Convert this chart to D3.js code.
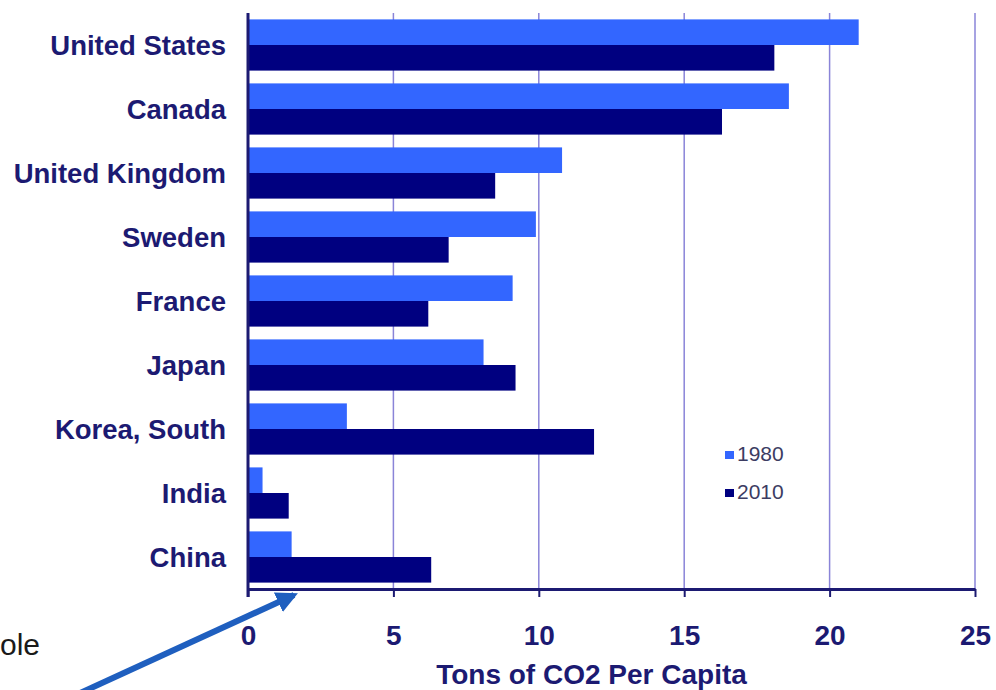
<!DOCTYPE html>
<html>
<head>
<meta charset="utf-8">
<script src="https://cdn.jsdelivr.net/npm/d3@7"></script>
<style>
  html, body { margin: 0; padding: 0; background: #ffffff; }
  svg { display: block; }
</style>
</head>
<body>
<svg id="chart" width="996" height="690"></svg>
<script>
// Per-capita CO2 emissions by country, 1980 vs 2010
const countries = ["United States", "Canada", "United Kingdom", "Sweden", "France",
                   "Japan", "Korea, South", "India", "China"];
const years = ["1980", "2010"];
const values1980 = [21.0, 18.6, 10.8, 9.9, 9.1, 8.1, 3.4, 0.5, 1.5];
const values2010 = [18.1, 16.3, 8.5, 6.9, 6.2, 9.2, 11.9, 1.4, 6.3];
const xTicks = [0, 5, 10, 15, 20, 25];
const axisTitle = "Tons of CO2 Per Capita";

const colors = { "1980": "#3366ff", "2010": "#000080" };
const navy = "#1c1a72";
const font = "Liberation Sans, Arial, sans-serif";

const svg = d3.select("#chart");
const margin = { left: 248, right: 21, top: 13, bottom: 101 };
const W = 996, H = 690;

const x = d3.scaleLinear().domain([0, 25]).range([margin.left, W - margin.right]);
const y = d3.scaleBand().domain(countries).range([margin.top, H - margin.bottom])
  .paddingInner(0.2).paddingOuter(0.1);
const ySub = d3.scaleBand().domain(years).range([0, y.bandwidth()]);

// vertical gridlines
svg.append("g").selectAll("line").data(xTicks.slice(1)).join("line")
  .attr("x1", d => x(d)).attr("x2", d => x(d))
  .attr("y1", margin.top).attr("y2", H - margin.bottom)
  .attr("stroke", "#8a84d8").attr("stroke-width", 1.5);

// bars
const rows = countries.map((c, i) => ({ country: c, "1980": values1980[i], "2010": values2010[i] }));
const groups = svg.append("g").selectAll("g").data(rows).join("g")
  .attr("transform", d => `translate(0,${y(d.country)})`);
groups.selectAll("rect").data(d => years.map(k => ({ key: k, value: d[k] }))).join("rect")
  .attr("x", x(0))
  .attr("y", d => ySub(d.key))
  .attr("width", d => x(d.value) - x(0))
  .attr("height", ySub.bandwidth())
  .attr("fill", d => colors[d.key]);

// x axis
const xAxis = svg.append("g")
  .attr("transform", `translate(0,${H - margin.bottom})`)
  .call(d3.axisBottom(x).tickValues(xTicks).tickSize(8).tickPadding(28).tickSizeOuter(0));
xAxis.select(".domain").attr("stroke", navy).attr("stroke-width", 3);
xAxis.selectAll(".tick line").attr("stroke", navy).attr("stroke-width", 2);
xAxis.selectAll(".tick text")
  .attr("fill", navy).style("font-family", font)
  .style("font-weight", "bold").style("font-size", "28px");

// y axis line
svg.append("line")
  .attr("x1", x(0)).attr("x2", x(0))
  .attr("y1", margin.top).attr("y2", H - margin.bottom + 8)
  .attr("stroke", navy).attr("stroke-width", 3);

// category labels
svg.append("g").selectAll("text").data(countries).join("text")
  .attr("x", 226)
  .attr("y", d => y(d) + y.bandwidth() / 2)
  .attr("dy", "0.36em")
  .attr("text-anchor", "end")
  .attr("fill", navy)
  .style("font-family", font)
  .style("font-weight", "bold").style("font-size", "27.5px")
  .text(d => d);

// axis title
svg.append("text")
  .attr("x", (x(0) + x(25)) / 2 - 20).attr("y", 684)
  .attr("text-anchor", "middle").attr("fill", navy)
  .style("font-family", font)
  .style("font-weight", "bold").style("font-size", "28px")
  .text(axisTitle);

// legend
const legend = svg.append("g").attr("transform", "translate(725,450)");
years.forEach((k, i) => {
  const g = legend.append("g").attr("transform", `translate(0,${i * 38})`);
  g.append("rect").attr("width", 9).attr("height", 8).attr("y", 1).attr("fill", colors[k]);
  g.append("text").attr("x", 12).attr("y", 11)
    .attr("fill", "#3c3c62")
    .style("font-family", font)
    .style("font-size", "21px")
    .text(k);
});

// fragment of slide text at the lower left
svg.append("text")
  .attr("x", 0).attr("y", 655)
  .attr("fill", "#1a1a1a")
  .style("font-family", font)
  .style("font-size", "30px")
  .text("ole");

// pointer arrow
svg.append("defs").append("marker")
  .attr("id", "head").attr("viewBox", "0 0 10 10")
  .attr("refX", 8).attr("refY", 5)
  .attr("markerWidth", 3.6).attr("markerHeight", 3.6)
  .attr("orient", "auto")
  .append("path").attr("d", "M0,0 L10,5 L0,10 z").attr("fill", "#1f5fbf");
svg.append("line")
  .attr("x1", 78).attr("y1", 694).attr("x2", 294).attr("y2", 595)
  .attr("stroke", "#1f5fbf").attr("stroke-width", 6)
  .attr("marker-end", "url(#head)");
</script>
</body>
</html>
